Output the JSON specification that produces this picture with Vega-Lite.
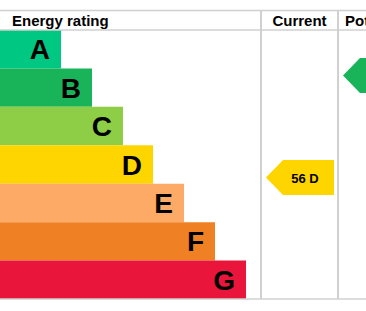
{
  "$schema": "https://vega.github.io/schema/vega-lite/v6.json",
  "width": 366,
  "height": 311,
  "autosize": {"type": "none"},
  "padding": 0,
  "background": "white",
  "config": {"view": {"stroke": null}, "font": "Liberation Sans"},
  "datasets": {
    "bands": [
      {"rating": "A", "x": 0, "x2": 61, "y": 0, "y2": 1, "yc": 0.5},
      {"rating": "B", "x": 0, "x2": 92, "y": 1, "y2": 2, "yc": 1.5},
      {"rating": "C", "x": 0, "x2": 123, "y": 2, "y2": 3, "yc": 2.5},
      {"rating": "D", "x": 0, "x2": 153, "y": 3, "y2": 4, "yc": 3.5},
      {"rating": "E", "x": 0, "x2": 184, "y": 4, "y2": 5, "yc": 4.5},
      {"rating": "F", "x": 0, "x2": 215, "y": 5, "y2": 6, "yc": 5.5},
      {"rating": "G", "x": 0, "x2": 246, "y": 6, "y2": 7, "yc": 6.5}
    ],
    "hlines": [
      {"x": 0, "x2": 366, "y": -0.507},
      {"x": 0, "x2": 366, "y": 0.0},
      {"x": 0, "x2": 366, "y": 7.0}
    ],
    "vlines": [
      {"x": 261, "y": -0.507, "y2": 7.0},
      {"x": 338, "y": -0.507, "y2": 7.0}
    ],
    "headersLeft": [
      {"label": "Energy rating", "x": 12, "y": -0.104},
      {"label": "Potential", "x": 345, "y": -0.104}
    ],
    "headersCenter": [
      {"label": "Current", "x": 299.5, "y": -0.104}
    ],
    "arrows": [
      {"kind": "Current", "label": "56 D", "band": "D", "x": 300, "tx": 305, "y": 3.838},
      {"kind": "Potential", "label": "", "band": "B", "x": 377, "tx": 382, "y": 1.184}
    ]
  },
  "layer": [
    {
      "data": {"name": "bands"},
      "mark": {"type": "rect"},
      "encoding": {
        "x": {"field": "x", "type": "quantitative", "scale": {"domain": [0, 366], "nice": false, "zero": false}, "axis": null},
        "x2": {"field": "x2"},
        "y": {"field": "y", "type": "quantitative", "scale": {"domain": [-0.7806, 7.312], "nice": false, "zero": false, "reverse": true}, "axis": null},
        "y2": {"field": "y2"},
        "color": {
          "field": "rating", "type": "nominal", "legend": null,
          "scale": {"domain": ["A", "B", "C", "D", "E", "F", "G"], "range": ["#00c781", "#19b459", "#8dce46", "#ffd500", "#fcaa65", "#ef8023", "#e9153b"]}
        }
      }
    },
    {
      "data": {"name": "bands"},
      "mark": {"type": "text", "align": "right", "baseline": "alphabetic", "dx": -11, "dy": 10, "fontSize": 28, "fontWeight": "bold", "color": "black"},
      "encoding": {
        "x": {"field": "x2", "type": "quantitative", "scale": {"domain": [0, 366], "nice": false, "zero": false}, "axis": null},
        "y": {"field": "yc", "type": "quantitative", "scale": {"domain": [-0.7806, 7.312], "nice": false, "zero": false, "reverse": true}, "axis": null},
        "text": {"field": "rating"}
      }
    },
    {
      "data": {"name": "hlines"},
      "mark": {"type": "rule", "color": "#d0d0d0", "strokeWidth": 1.5},
      "encoding": {
        "x": {"field": "x", "type": "quantitative", "scale": {"domain": [0, 366], "nice": false, "zero": false}, "axis": null},
        "x2": {"field": "x2"},
        "y": {"field": "y", "type": "quantitative", "scale": {"domain": [-0.7806, 7.312], "nice": false, "zero": false, "reverse": true}, "axis": null}
      }
    },
    {
      "data": {"name": "vlines"},
      "mark": {"type": "rule", "color": "#d0d0d0", "strokeWidth": 2},
      "encoding": {
        "x": {"field": "x", "type": "quantitative", "scale": {"domain": [0, 366], "nice": false, "zero": false}, "axis": null},
        "y": {"field": "y", "type": "quantitative", "scale": {"domain": [-0.7806, 7.312], "nice": false, "zero": false, "reverse": true}, "axis": null},
        "y2": {"field": "y2"}
      }
    },
    {
      "data": {"name": "headersLeft"},
      "mark": {"type": "text", "align": "left", "baseline": "alphabetic", "fontSize": 15, "fontWeight": "bold", "color": "black"},
      "encoding": {
        "x": {"field": "x", "type": "quantitative", "scale": {"domain": [0, 366], "nice": false, "zero": false}, "axis": null},
        "y": {"field": "y", "type": "quantitative", "scale": {"domain": [-0.7806, 7.312], "nice": false, "zero": false, "reverse": true}, "axis": null},
        "text": {"field": "label"}
      }
    },
    {
      "data": {"name": "headersCenter"},
      "mark": {"type": "text", "align": "center", "baseline": "alphabetic", "fontSize": 15, "fontWeight": "bold", "color": "black"},
      "encoding": {
        "x": {"field": "x", "type": "quantitative", "scale": {"domain": [0, 366], "nice": false, "zero": false}, "axis": null},
        "y": {"field": "y", "type": "quantitative", "scale": {"domain": [-0.7806, 7.312], "nice": false, "zero": false, "reverse": true}, "axis": null},
        "text": {"field": "label"}
      }
    },
    {
      "data": {"name": "arrows"},
      "mark": {"type": "point", "filled": true, "opacity": 1, "size": 4624, "shape": "M-1,0L-0.5,-0.515L1,-0.515L1,0.515L-0.5,0.515Z"},
      "encoding": {
        "x": {"field": "x", "type": "quantitative", "scale": {"domain": [0, 366], "nice": false, "zero": false}, "axis": null},
        "y": {"field": "y", "type": "quantitative", "scale": {"domain": [-0.7806, 7.312], "nice": false, "zero": false, "reverse": true}, "axis": null},
        "color": {
          "field": "band", "type": "nominal", "legend": null,
          "scale": {"domain": ["A", "B", "C", "D", "E", "F", "G"], "range": ["#00c781", "#19b459", "#8dce46", "#ffd500", "#fcaa65", "#ef8023", "#e9153b"]}
        }
      }
    },
    {
      "data": {"name": "arrows"},
      "mark": {"type": "text", "align": "center", "baseline": "alphabetic", "dy": 6, "fontSize": 13, "fontWeight": "bold", "color": "black"},
      "encoding": {
        "x": {"field": "tx", "type": "quantitative", "scale": {"domain": [0, 366], "nice": false, "zero": false}, "axis": null},
        "y": {"field": "y", "type": "quantitative", "scale": {"domain": [-0.7806, 7.312], "nice": false, "zero": false, "reverse": true}, "axis": null},
        "text": {"field": "label"}
      }
    }
  ]
}
